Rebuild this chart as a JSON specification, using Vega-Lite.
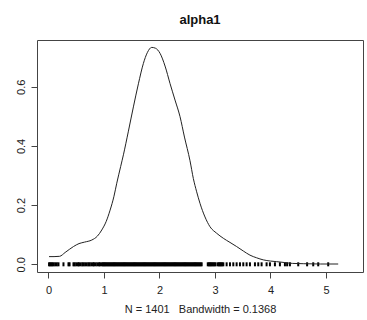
{
  "$schema": "https://vega.github.io/schema/vega-lite/v6.json",
  "width": 326,
  "height": 232,
  "autosize": "none",
  "padding": {"left": 37, "top": 40, "right": 4, "bottom": 48},
  "background": "white",
  "config": {
    "view": {"stroke": "#444", "strokeWidth": 1},
    "font": "Liberation Sans",
    "axis": {"grid": false, "domain": false, "tickColor": "#444", "tickSize": 6, "labelColor": "#222", "labelFont": "Liberation Sans", "labelFontSize": 11, "titleFont": "Liberation Sans", "titleColor": "#222"}
  },
  "title": {"text": "alpha1", "font": "Liberation Sans", "fontSize": 13, "fontWeight": "bold", "color": "#111", "anchor": "middle", "frame": "group", "offset": 13},
  "datasets": {
    "curve": [
      {"x": 0.01, "d": 0.026}, {"x": 0.1, "d": 0.026}, {"x": 0.2, "d": 0.027}, {"x": 0.3, "d": 0.04},
      {"x": 0.45, "d": 0.06}, {"x": 0.55, "d": 0.07}, {"x": 0.65, "d": 0.075}, {"x": 0.78, "d": 0.082},
      {"x": 0.88, "d": 0.095}, {"x": 0.96, "d": 0.116}, {"x": 1.04, "d": 0.145}, {"x": 1.11, "d": 0.183},
      {"x": 1.18, "d": 0.23}, {"x": 1.23, "d": 0.274}, {"x": 1.3, "d": 0.33}, {"x": 1.35, "d": 0.37},
      {"x": 1.44, "d": 0.45}, {"x": 1.53, "d": 0.532}, {"x": 1.62, "d": 0.61}, {"x": 1.71, "d": 0.679},
      {"x": 1.78, "d": 0.715}, {"x": 1.86, "d": 0.733}, {"x": 1.93, "d": 0.73}, {"x": 2.01, "d": 0.713},
      {"x": 2.1, "d": 0.67}, {"x": 2.19, "d": 0.611}, {"x": 2.28, "d": 0.555}, {"x": 2.37, "d": 0.499},
      {"x": 2.45, "d": 0.43}, {"x": 2.55, "d": 0.35}, {"x": 2.61, "d": 0.29}, {"x": 2.67, "d": 0.245},
      {"x": 2.73, "d": 0.206}, {"x": 2.82, "d": 0.16}, {"x": 2.91, "d": 0.127}, {"x": 3.03, "d": 0.105},
      {"x": 3.15, "d": 0.088}, {"x": 3.27, "d": 0.074}, {"x": 3.39, "d": 0.06}, {"x": 3.51, "d": 0.045},
      {"x": 3.63, "d": 0.031}, {"x": 3.75, "d": 0.022}, {"x": 3.87, "d": 0.015}, {"x": 4.0, "d": 0.011},
      {"x": 4.11, "d": 0.009}, {"x": 4.25, "d": 0.006}, {"x": 4.4, "d": 0.003}, {"x": 4.6, "d": 0.002},
      {"x": 4.9, "d": 0.001}, {"x": 5.22, "d": 0.001}
    ],
    "rug": [
      {"v": 0.01}, {"v": 0.03}, {"v": 0.05}, {"v": 0.07}, {"v": 0.09}, {"v": 0.12}, {"v": 0.15}, {"v": 0.18},
      {"v": 0.27}, {"v": 0.36}, {"v": 0.38}, {"v": 0.45}, {"v": 0.47}, {"v": 0.5}, {"v": 0.53}, {"v": 0.55},
      {"v": 0.58}, {"v": 0.61}, {"v": 0.63}, {"v": 0.66}, {"v": 0.69}, {"v": 0.72}, {"v": 0.74}, {"v": 0.77},
      {"v": 0.8}, {"v": 0.82}, {"v": 0.85}, {"v": 0.88}, {"v": 0.91}, {"v": 0.93}, {"v": 0.96}, {"v": 0.98},
      {"v": 1.0}, {"v": 1.02}, {"v": 1.04}, {"v": 1.06}, {"v": 1.08}, {"v": 1.1}, {"v": 1.12}, {"v": 1.14},
      {"v": 1.16}, {"v": 1.18}, {"v": 1.2}, {"v": 1.22}, {"v": 1.24}, {"v": 1.26}, {"v": 1.28}, {"v": 1.3},
      {"v": 1.32}, {"v": 1.34}, {"v": 1.36}, {"v": 1.38}, {"v": 1.4}, {"v": 1.42}, {"v": 1.44}, {"v": 1.46},
      {"v": 1.48}, {"v": 1.5}, {"v": 1.52}, {"v": 1.54}, {"v": 1.56}, {"v": 1.58}, {"v": 1.6}, {"v": 1.62},
      {"v": 1.64}, {"v": 1.66}, {"v": 1.68}, {"v": 1.7}, {"v": 1.72}, {"v": 1.74}, {"v": 1.76}, {"v": 1.78},
      {"v": 1.8}, {"v": 1.82}, {"v": 1.84}, {"v": 1.86}, {"v": 1.88}, {"v": 1.9}, {"v": 1.92}, {"v": 1.94},
      {"v": 1.96}, {"v": 1.98}, {"v": 2.0}, {"v": 2.02}, {"v": 2.04}, {"v": 2.06}, {"v": 2.08}, {"v": 2.1},
      {"v": 2.12}, {"v": 2.14}, {"v": 2.16}, {"v": 2.18}, {"v": 2.2}, {"v": 2.22}, {"v": 2.24}, {"v": 2.26},
      {"v": 2.28}, {"v": 2.3}, {"v": 2.32}, {"v": 2.34}, {"v": 2.36}, {"v": 2.38}, {"v": 2.4}, {"v": 2.42},
      {"v": 2.44}, {"v": 2.46}, {"v": 2.48}, {"v": 2.5}, {"v": 2.52}, {"v": 2.54}, {"v": 2.56}, {"v": 2.58},
      {"v": 2.6}, {"v": 2.62}, {"v": 2.64}, {"v": 2.66}, {"v": 2.68}, {"v": 2.7}, {"v": 2.72}, {"v": 2.74},
      {"v": 2.76}, {"v": 2.87}, {"v": 2.89}, {"v": 2.91}, {"v": 2.93}, {"v": 2.95}, {"v": 2.97}, {"v": 2.99},
      {"v": 3.01}, {"v": 3.05}, {"v": 3.07}, {"v": 3.09}, {"v": 3.11}, {"v": 3.13}, {"v": 3.15}, {"v": 3.21},
      {"v": 3.27}, {"v": 3.33}, {"v": 3.39}, {"v": 3.45}, {"v": 3.51}, {"v": 3.57}, {"v": 3.63}, {"v": 3.72},
      {"v": 3.78}, {"v": 3.84}, {"v": 3.93}, {"v": 3.99}, {"v": 4.08}, {"v": 4.17}, {"v": 4.26}, {"v": 4.3},
      {"v": 4.35}, {"v": 4.5}, {"v": 4.66}, {"v": 4.77}, {"v": 4.86}, {"v": 5.04}
    ]
  },
  "layer": [
    {
      "mark": {"type": "rule", "color": "#c8c8c8", "strokeWidth": 1},
      "encoding": {"y": {"datum": 0, "type": "quantitative", "scale": {"domain": [-0.026, 0.758], "nice": false, "zero": false}}}
    },
    {
      "data": {"name": "rug"},
      "mark": {"type": "tick", "orient": "vertical", "color": "#000", "opacity": 1, "size": 4, "thickness": 2},
      "encoding": {
        "x": {"field": "v", "type": "quantitative"},
        "y": {"datum": 0, "type": "quantitative"}
      }
    },
    {
      "data": {"name": "curve"},
      "mark": {"type": "line", "color": "#222", "strokeWidth": 1, "interpolate": "monotone"},
      "encoding": {
        "x": {"field": "x", "type": "quantitative", "scale": {"domain": [-0.207, 5.667], "nice": false, "zero": false},
          "axis": {"values": [0, 1, 2, 3, 4, 5], "format": "d", "labelPadding": 6, "title": "N = 1401\u00a0\u00a0\u00a0Bandwidth = 0.1368", "titleFontSize": 11, "titleFontWeight": "normal", "titlePadding": 8}},
        "y": {"field": "d", "type": "quantitative",
          "axis": {"values": [0, 0.2, 0.4, 0.6], "format": ".1f", "labelAngle": -90, "labelAlign": "center", "labelBaseline": "bottom", "labelPadding": 5, "title": null}}
      }
    }
  ]
}
